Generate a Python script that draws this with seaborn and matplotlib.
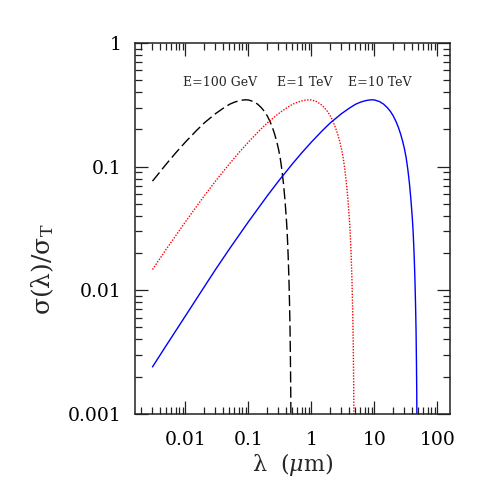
"""
plot.py
Pair-production cross section sigma(lambda)/sigma_T versus target photon
wavelength for three gamma-ray energies, on log-log axes.
"""

import numpy as np
import pandas as pd
import matplotlib

matplotlib.use("Agg")
import matplotlib.pyplot as plt
import seaborn as sns
from matplotlib.ticker import LogLocator, NullFormatter

# values
LAM_100GEV = [0.003, 0.005, 0.007, 0.01, 0.015, 0.02, 0.03, 0.04, 0.05, 0.06,
              0.07, 0.08, 0.09, 0.1, 0.12, 0.14, 0.16, 0.18, 0.2, 0.22,
              0.24, 0.26, 0.28, 0.30, 0.32, 0.34, 0.36, 0.38, 0.40, 0.41,
              0.42, 0.43, 0.44, 0.45, 0.458, 0.465, 0.470, 0.473]
SIG_100GEV = [0.0763, 0.1053, 0.129, 0.158, 0.196, 0.226, 0.268, 0.297, 0.319, 0.332,
              0.340, 0.345, 0.347, 0.346, 0.336, 0.320, 0.300, 0.279, 0.256, 0.232,
              0.208, 0.184, 0.161, 0.139, 0.117, 0.094, 0.073, 0.054, 0.038, 0.031,
              0.0238, 0.0175, 0.0122, 0.0076, 0.0048, 0.0026, 0.0015, 0.0008]

LAM_1TEV = [0.003, 0.005, 0.01, 0.02, 0.03, 0.05, 0.07, 0.1, 0.15, 0.2,
            0.3, 0.4, 0.5, 0.6, 0.7, 0.8, 0.9, 1.0, 1.2, 1.4,
            1.6, 1.8, 2.0, 2.2, 2.4, 2.6, 2.8, 3.0, 3.2, 3.4,
            3.6, 3.8, 4.0, 4.1, 4.2, 4.3, 4.4, 4.5, 4.58, 4.65,
            4.70, 4.73]
SIG_1TEV = [0.0147, 0.0216, 0.0358, 0.0582, 0.0763, 0.1053, 0.129, 0.158, 0.196, 0.226,
            0.268, 0.297, 0.319, 0.332, 0.340, 0.345, 0.347, 0.346, 0.336, 0.320,
            0.300, 0.279, 0.256, 0.232, 0.208, 0.184, 0.161, 0.139, 0.117, 0.094,
            0.073, 0.054, 0.038, 0.031, 0.0238, 0.0175, 0.0122, 0.0076, 0.0048, 0.0026,
            0.0015, 0.0008]

LAM_10TEV = [0.003, 0.005, 0.01, 0.02, 0.03, 0.05, 0.1, 0.2, 0.3, 0.5,
             0.7, 1, 1.5, 2, 3, 4, 5, 6, 7, 8,
             9, 10, 12, 14, 16, 18, 20, 22, 24, 26,
             28, 30, 32, 34, 36, 38, 40, 41, 42, 43,
             44, 45, 45.8, 46.5, 47.0, 47.3]
SIG_10TEV = [0.0024, 0.0036, 0.0062, 0.0107, 0.0147, 0.0216, 0.0358, 0.0582, 0.0763, 0.1053,
             0.129, 0.158, 0.196, 0.226, 0.268, 0.297, 0.319, 0.332, 0.340, 0.345,
             0.347, 0.346, 0.336, 0.320, 0.300, 0.279, 0.256, 0.232, 0.208, 0.184,
             0.161, 0.139, 0.117, 0.094, 0.073, 0.054, 0.038, 0.031, 0.0238, 0.0175,
             0.0122, 0.0076, 0.0048, 0.0026, 0.0015, 0.0008]

LABELS = ["E=100 GeV", "E=1 TeV", "E=10 TeV"]
LABEL_X = [0.035, 0.78, 12.3]
LABEL_Y = 0.477

X_TICKS = [0.01, 0.1, 1, 10, 100]
X_TICKLABELS = ["0.01", "0.1", "1", "10", "100"]
Y_TICKS = [0.001, 0.01, 0.1, 1]
Y_TICKLABELS = ["0.001", "0.01", "0.1", "1"]


def main():
    sns.set_style("ticks")
    plt.rcParams["font.family"] = ["DejaVu Serif"]
    plt.rcParams["mathtext.fontset"] = "dejavuserif"

    fig = plt.figure(figsize=(4.91, 4.91), dpi=100)
    ax = fig.add_axes([0.275, 0.157, 0.6415, 0.7555])

    curves = [
        (LAM_100GEV, SIG_100GEV, "black", (0, (8.0, 3.0))),
        (LAM_1TEV, SIG_1TEV, "red", (0, (1.0, 1.1))),
        (LAM_10TEV, SIG_10TEV, "blue", "-"),
    ]
    for lam, sig, color, ls in curves:
        df = pd.DataFrame({"lam": lam, "sig": sig})
        sns.lineplot(data=df, x="lam", y="sig", ax=ax, color=color,
                     linestyle=ls, linewidth=1.0, estimator=None, sort=False)

    ax.set_xscale("log")
    ax.set_yscale("log")
    ax.set_xlim(10 ** -2.8, 10 ** 2.2)
    ax.set_ylim(0.001, 1)

    ax.set_xticks(X_TICKS, labels=X_TICKLABELS)
    ax.set_yticks(Y_TICKS, labels=Y_TICKLABELS)
    ax.xaxis.set_minor_locator(LogLocator(base=10, subs=np.arange(2, 10), numticks=20))
    ax.yaxis.set_minor_locator(LogLocator(base=10, subs=np.arange(2, 10), numticks=20))
    ax.xaxis.set_minor_formatter(NullFormatter())
    ax.yaxis.set_minor_formatter(NullFormatter())

    ax.tick_params(which="both", direction="in", top=True, right=True,
                   width=0.9, colors="#222222", labelcolor="black")
    ax.tick_params(which="major", length=9.5, labelsize=13.5)
    ax.tick_params(axis="y", which="major", pad=10)
    ax.tick_params(axis="x", which="major", pad=12)
    ax.tick_params(which="minor", length=5)
    for spine in ax.spines.values():
        spine.set_linewidth(1.1)
        spine.set_color("#222222")

    for text, x in zip(LABELS, LABEL_X):
        ax.text(x, LABEL_Y, text, ha="center", va="center", fontsize=9)

    ax.set_xlabel(r"λ  ($\mu$m)", fontsize=16)
    ax.set_ylabel(r"σ(λ)/σ$_\mathrm{T}$", fontsize=18)
    ax.xaxis.set_label_coords(0.5, -0.10)
    ax.yaxis.set_label_coords(-0.25, 0.39)

    fig.savefig("out.png", dpi=100)
    plt.close(fig)


if __name__ == "__main__":
    main()
